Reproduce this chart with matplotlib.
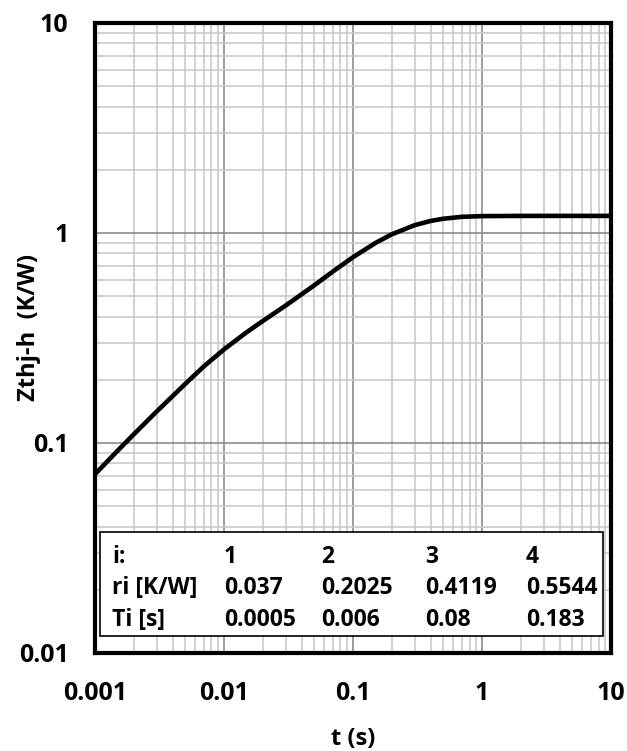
import matplotlib
matplotlib.use("Agg")
import matplotlib.pyplot as plt
from matplotlib.ticker import LogLocator, FixedLocator, FixedFormatter, NullFormatter

# ── Data ──────────────────────────────────────────────────────────────────────
t_s = [0.001, 0.0015, 0.002, 0.003, 0.005, 0.007, 0.01, 0.015, 0.02, 0.03,
       0.05, 0.07, 0.1, 0.15, 0.2, 0.3, 0.4, 0.5, 0.7, 1.0, 2.0, 10.0]
zth = [0.071, 0.092, 0.110, 0.141, 0.191, 0.232, 0.279, 0.337, 0.381, 0.451,
       0.563, 0.656, 0.767, 0.898, 0.986, 1.089, 1.141, 1.169, 1.194, 1.203,
       1.206, 1.206]

x_ticks = [0.001, 0.01, 0.1, 1, 10]
x_labels = ["0.001", "0.01", "0.1", "1", "10"]
y_ticks = [0.01, 0.1, 1, 10]
y_labels = ["0.01", "0.1", "1", "10"]

tbl_index = ["1", "2", "3", "4"]
tbl_r = ["0.037", "0.2025", "0.4119", "0.5544"]
tbl_tau = ["0.0005", "0.006", "0.08", "0.183"]

plt.rcParams["font.family"] = ["Open Sans", "DejaVu Sans"]
plt.rcParams["font.weight"] = "bold"

fig = plt.figure(figsize=(6.27, 7.51), dpi=100)
ax = fig.add_axes([0.1515, 0.1305, 0.823, 0.8389])

ax.plot(t_s, zth, color="black", lw=3.3, solid_capstyle="butt", zorder=3)

ax.set_xscale("log")
ax.set_yscale("log")
ax.set_xlim(0.001, 10)
ax.set_ylim(0.01, 10)

ax.xaxis.set_major_locator(FixedLocator(x_ticks))
ax.xaxis.set_major_formatter(FixedFormatter(x_labels))
ax.yaxis.set_major_locator(FixedLocator(y_ticks))
ax.yaxis.set_major_formatter(FixedFormatter(y_labels))
ax.xaxis.set_minor_locator(LogLocator(base=10, subs=range(2, 10), numticks=20))
ax.yaxis.set_minor_locator(LogLocator(base=10, subs=range(2, 10), numticks=20))
ax.xaxis.set_minor_formatter(NullFormatter())
ax.yaxis.set_minor_formatter(NullFormatter())

ax.grid(True, which="major", color="#8c8c8c", lw=1.2, zorder=0)
ax.grid(True, which="minor", color="#c9c9c9", lw=1.2, zorder=0)
ax.set_axisbelow(True)
ax.tick_params(which="both", length=0, labelsize=18, colors="black")
ax.tick_params(axis="x", pad=20)
ax.tick_params(axis="y", pad=19)

for sp in ax.spines.values():
    sp.set_linewidth(3)
    sp.set_color("black")

ax.set_xlabel("t (s)", fontsize=17, fontweight="bold")
ax.xaxis.set_label_coords(0.5, -0.118)
ax.set_ylabel("Zthj-h  (K/W)", fontsize=17, fontweight="bold")
ax.yaxis.set_label_coords(-0.105, 0.517)

# ── Foster parameter table ───────────────────────────────────────────────────
box = plt.Rectangle((0.0097, 0.027), 0.975, 0.165, transform=ax.transAxes,
                    facecolor="white", edgecolor="black", lw=1.2, zorder=4)
ax.add_patch(box)

row_y = [0.152, 0.103, 0.052]
col_x = [0.033, 0.25, 0.438, 0.64, 0.835]
rows = [["i:"] + tbl_index, ["ri [K/W]"] + tbl_r, ["Ti [s]"] + tbl_tau]
for y, row in zip(row_y, rows):
    for x, txt in zip(col_x, row):
        ax.text(x, y, txt, transform=ax.transAxes, fontsize=16.5,
                fontweight="bold", ha="left", va="center", zorder=5)

fig.savefig("out.png", dpi=100)
